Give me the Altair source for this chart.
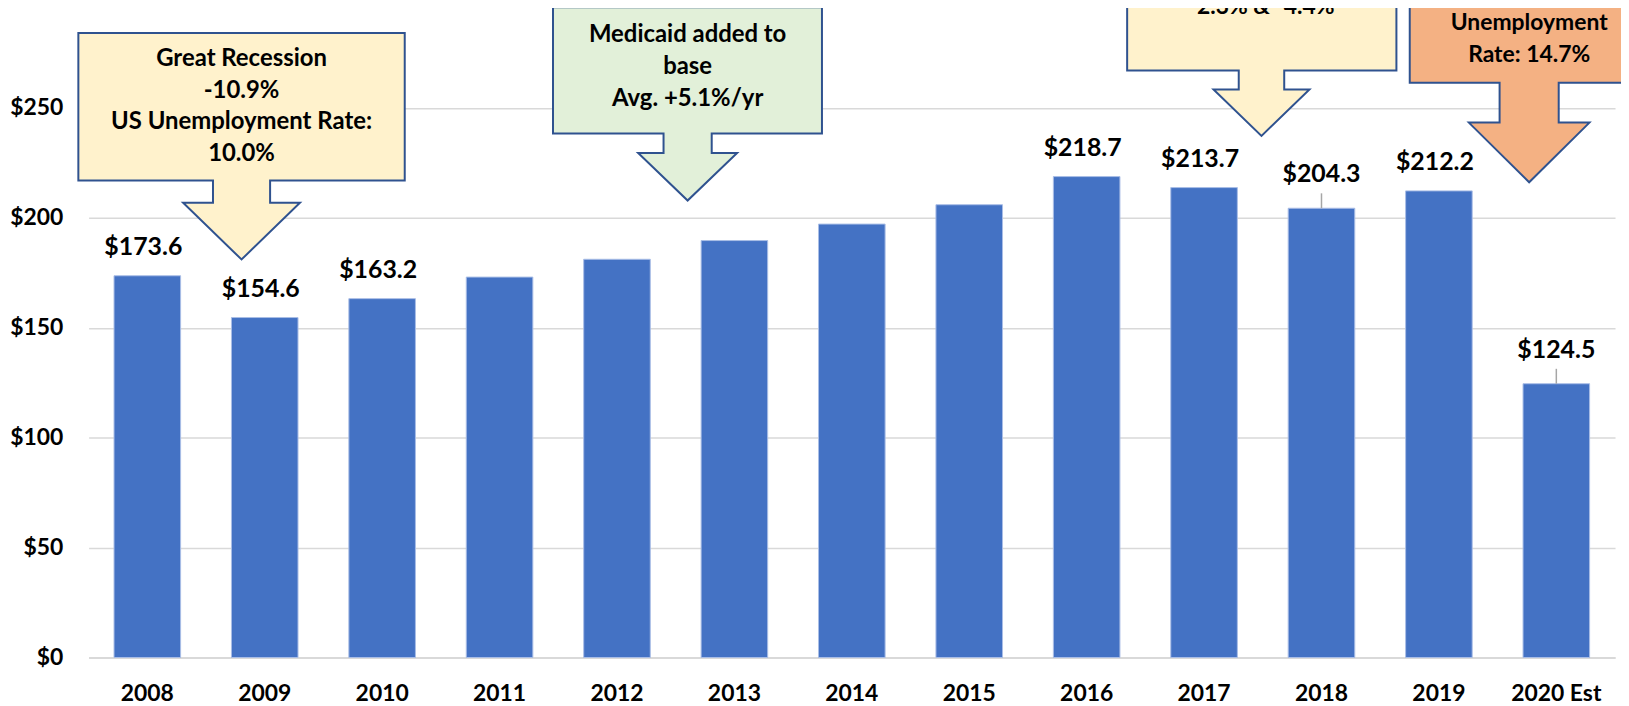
import altair as alt
import pandas as pd

# ---------------- data ----------------
years = ["2008", "2009", "2010", "2011", "2012", "2013", "2014",
         "2015", "2016", "2017", "2018", "2019", "2020 Est"]
revenue = [173.6, 154.6, 163.2, 173.0, 181.1, 189.6, 197.1,
           205.9, 218.7, 213.7, 204.3, 212.2, 124.5]
value_labels = ["$173.6", "$154.6", "$163.2", "", "", "", "", "",
                "$218.7", "$213.7", "$204.3", "$212.2", "$124.5"]
leader_years = ["2018", "2020 Est"]
y_ticks = [0, 50, 100, 150, 200, 250]

callout_texts = [
    "Great Recession\n-10.9%\nUS Unemployment Rate:\n10.0%",
    "Medicaid added to\nbase\nAvg. +5.1%/yr",
    "-2.3% & -4.4%",
    "Unemployment\nRate: 14.7%",
]
callout_years = ["2009", "2013", "2017", "2020 Est"]   # category each arrow points near
callout_levels = [181.0, 207.8, 237.2, 216.1]          # level of arrow tip (y units)

# ---------------- styling / annotation geometry ----------------
FONT = "Lato"
BAR = "#4472C4"
GRID = "#d9d9d9"
OUTLINE = "#2F528F"


def arrow_path(bl, br, bt, bb, shw, sb, hhw):
    return (f"M{bl},{bt}L{br},{bt}L{br},{bb}L{shw},{bb}L{shw},{sb}L{hhw},{sb}"
            f"L0,0L{-hhw},{sb}L{-shw},{sb}L{-shw},{bb}L{bl},{bb}Z")


callout_style = [
    dict(path=arrow_path(-164, 164, -227.6, -79.3, 28.7, -57, 58.7), dx=-23.3,
         tdy=-194.3, lh=31.7, fill="#FFF2CC", fs=24),
    dict(path=arrow_path(-135.3, 135, -194.3, -67.3, 24.2, -47.7, 49.7), dx=-47,
         tdy=-159.3, lh=32, fill="#E2F0D9", fs=24),
    dict(path=arrow_path(-135, 135.6, -320, -65.7, 22.85, -46.7, 48.2), dx=57.7,
         tdy=-122.3, lh=32, fill="#FFF2CC", fs=23),
    dict(path=arrow_path(-120, 125, -340, -100, 29.7, -60, 60.6), dx=-27.3,
         tdy=-153.4, lh=32.7, fill="#F4B183", fs=23),
]

df = pd.DataFrame({
    "year": years,
    "revenue": revenue,
    "label": value_labels,
    "leader": [y in leader_years for y in years],
})

x_enc = alt.X(
    "year:N", sort=years,
    scale=alt.Scale(domain=years, paddingInner=0.433, paddingOuter=0.2165),
    axis=alt.Axis(title=None, labelAngle=0, labelFont=FONT, labelFontSize=23,
                  labelFontWeight="bold", labelColor="#000000", ticks=False,
                  tickSize=0, domain=True, domainColor=GRID, domainWidth=2,
                  labelPadding=43, labelBaseline="alphabetic", grid=False),
)
y_scale = alt.Scale(domain=[0, 298.2], nice=False, zero=True)
y_enc = alt.Y(
    "revenue:Q", scale=y_scale,
    axis=alt.Axis(title=None, values=y_ticks, labelExpr="'$' + datum.value",
                  labelFont=FONT, labelFontSize=23, labelFontWeight="bold",
                  labelColor="#000000", grid=True, gridColor=GRID, gridWidth=1.5,
                  domain=False, ticks=False, tickSize=0, labelPadding=26),
)

base = alt.Chart(df)

bars = base.mark_bar(color=BAR, stroke="#a9bde6", strokeWidth=1).encode(x=x_enc, y=y_enc)

labels = base.transform_filter("datum.label != '' && !datum.leader").mark_text(
    font=FONT, fontSize=25, fontWeight="bold", color="#000000",
    align="center", baseline="alphabetic", dy=-21, dx=-4,
).encode(x=alt.X("year:N", sort=years), y=alt.Y("revenue:Q"), text="label:N")

leader_labels = base.transform_filter("datum.leader").mark_text(
    font=FONT, fontSize=25, fontWeight="bold", color="#000000",
    align="center", baseline="alphabetic", dy=-26,
).encode(x=alt.X("year:N", sort=years), y=alt.Y("revenue:Q"), text="label:N")

leaders = base.transform_filter("datum.leader").mark_rule(
    color="#a6a6a6", strokeWidth=1.5, y2Offset=-15,
).encode(x=alt.X("year:N", sort=years), y=alt.Y("revenue:Q"), y2=alt.Y2("revenue"))

layers = [bars, leaders, labels, leader_labels]

cdf = pd.DataFrame({"year": callout_years, "level": callout_levels,
                    "text": callout_texts, "idx": list(range(len(callout_years)))})
for i, st in enumerate(callout_style):
    c = alt.Chart(cdf).transform_filter(f"datum.idx == {i}")
    shape = c.mark_point(
        shape=st["path"], size=4, filled=True, fill=st["fill"], stroke=OUTLINE,
        strokeWidth=2, opacity=1, fillOpacity=1, strokeOpacity=1, xOffset=st["dx"],
    ).encode(x=alt.X("year:N", sort=years), y=alt.Y("level:Q"))
    txt = c.mark_text(
        font=FONT, fontSize=st["fs"], fontWeight="bold", color="#000000", align="center",
        baseline="alphabetic", lineBreak="\n", lineHeight=st["lh"],
        dx=st["dx"], dy=st["tdy"],
    ).encode(x=alt.X("year:N", sort=years), y=alt.Y("level:Q"), text="text:N")
    layers += [shape, txt]

chart = alt.layer(*layers).properties(
    width=1534, height=659,
    padding={"left": 81, "top": -8, "right": 6, "bottom": 47},
    autosize=alt.AutoSizeParams(type="none"),
    background="white",
).configure_view(stroke=None)

chart.save("out.html", embed_options={"renderer": "svg", "actions": False})
